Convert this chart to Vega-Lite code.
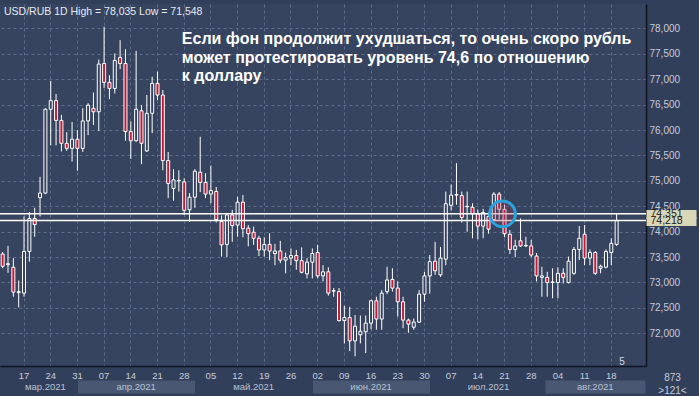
{
  "$schema": "https://vega.github.io/schema/vega-lite/v6.json",
  "width": 646,
  "height": 362,
  "autosize": {"type": "none"},
  "padding": {"left": 0, "top": 4, "right": 53, "bottom": 30},
  "background": "#323f5a",
  "config": {"view": {"fill": "#36445f", "stroke": null}, "font": "Liberation Sans"},
  "title": {"text": "USD/RUB 1D High = 78,035 Low = 71,548", "anchor": "start", "frame": "group", "offset": -21, "baseline": "alphabetic", "fontSize": 10.5, "fontWeight": "normal", "color": "#e6e9ef", "dx": 4},
  "datasets": {
    "candles": [
      {"d": "2021-03-11", "o": 73.56, "h": 73.60, "l": 73.28, "c": 73.32},
      {"d": "2021-03-12", "o": 73.35, "h": 73.72, "l": 73.19, "c": 73.37},
      {"d": "2021-03-15", "o": 73.30, "h": 73.48, "l": 72.72, "c": 72.81},
      {"d": "2021-03-16", "o": 72.80, "h": 73.04, "l": 72.51, "c": 72.82},
      {"d": "2021-03-17", "o": 72.79, "h": 74.30, "l": 72.72, "c": 73.61},
      {"d": "2021-03-18", "o": 73.61, "h": 74.39, "l": 73.41, "c": 74.26},
      {"d": "2021-03-19", "o": 74.26, "h": 74.47, "l": 73.90, "c": 74.14},
      {"d": "2021-03-22", "o": 74.67, "h": 75.08, "l": 74.30, "c": 74.76},
      {"d": "2021-03-23", "o": 74.76, "h": 76.43, "l": 74.74, "c": 76.41},
      {"d": "2021-03-24", "o": 76.41, "h": 76.97, "l": 75.70, "c": 76.58},
      {"d": "2021-03-25", "o": 76.58, "h": 76.71, "l": 75.70, "c": 76.19},
      {"d": "2021-03-26", "o": 76.19, "h": 76.30, "l": 75.58, "c": 75.74},
      {"d": "2021-03-29", "o": 75.74, "h": 75.96, "l": 75.59, "c": 75.64},
      {"d": "2021-03-30", "o": 75.64, "h": 76.16, "l": 75.38, "c": 75.82},
      {"d": "2021-03-31", "o": 75.82, "h": 76.00, "l": 75.20, "c": 75.64},
      {"d": "2021-04-01", "o": 75.64, "h": 76.43, "l": 75.57, "c": 76.18},
      {"d": "2021-04-02", "o": 76.18, "h": 76.53, "l": 75.90, "c": 76.49},
      {"d": "2021-04-05", "o": 76.43, "h": 76.74, "l": 76.10, "c": 76.36},
      {"d": "2021-04-06", "o": 76.36, "h": 77.39, "l": 75.98, "c": 77.30},
      {"d": "2021-04-07", "o": 77.31, "h": 78.035, "l": 76.83, "c": 76.94},
      {"d": "2021-04-08", "o": 76.94, "h": 77.08, "l": 76.61, "c": 76.82},
      {"d": "2021-04-09", "o": 76.82, "h": 77.51, "l": 76.72, "c": 77.37},
      {"d": "2021-04-12", "o": 77.43, "h": 77.77, "l": 77.20, "c": 77.31},
      {"d": "2021-04-13", "o": 77.31, "h": 77.59, "l": 75.79, "c": 75.97},
      {"d": "2021-04-14", "o": 75.97, "h": 76.17, "l": 75.43, "c": 75.79},
      {"d": "2021-04-15", "o": 75.79, "h": 77.56, "l": 75.77, "c": 76.41},
      {"d": "2021-04-16", "o": 76.38, "h": 76.49, "l": 75.33, "c": 75.74},
      {"d": "2021-04-19", "o": 75.59, "h": 76.69, "l": 75.57, "c": 76.33},
      {"d": "2021-04-20", "o": 76.33, "h": 77.05, "l": 75.94, "c": 76.92},
      {"d": "2021-04-21", "o": 76.92, "h": 77.15, "l": 76.59, "c": 76.69},
      {"d": "2021-04-22", "o": 76.69, "h": 76.79, "l": 75.21, "c": 75.40},
      {"d": "2021-04-23", "o": 75.40, "h": 75.57, "l": 74.66, "c": 74.95},
      {"d": "2021-04-26", "o": 74.85, "h": 75.23, "l": 74.61, "c": 75.02},
      {"d": "2021-04-27", "o": 75.00, "h": 75.21, "l": 74.79, "c": 75.01},
      {"d": "2021-04-28", "o": 74.98, "h": 75.05, "l": 74.33, "c": 74.42},
      {"d": "2021-04-29", "o": 74.43, "h": 74.76, "l": 74.19, "c": 74.68},
      {"d": "2021-04-30", "o": 74.68, "h": 75.23, "l": 74.47, "c": 75.19},
      {"d": "2021-05-03", "o": 75.17, "h": 75.87, "l": 74.78, "c": 74.97},
      {"d": "2021-05-04", "o": 74.97, "h": 75.15, "l": 74.66, "c": 74.74},
      {"d": "2021-05-05", "o": 74.74, "h": 75.30, "l": 74.56, "c": 74.81},
      {"d": "2021-05-06", "o": 74.79, "h": 74.88, "l": 74.18, "c": 74.24},
      {"d": "2021-05-07", "o": 74.20, "h": 74.32, "l": 73.51, "c": 73.74},
      {"d": "2021-05-10", "o": 73.75, "h": 74.36, "l": 73.50, "c": 74.33},
      {"d": "2021-05-11", "o": 74.33, "h": 74.43, "l": 73.80, "c": 74.12},
      {"d": "2021-05-12", "o": 74.13, "h": 74.69, "l": 73.90, "c": 74.58},
      {"d": "2021-05-13", "o": 74.58, "h": 74.72, "l": 73.89, "c": 74.06},
      {"d": "2021-05-14", "o": 74.07, "h": 74.13, "l": 73.71, "c": 73.96},
      {"d": "2021-05-17", "o": 73.99, "h": 74.10, "l": 73.74, "c": 73.87},
      {"d": "2021-05-18", "o": 73.87, "h": 73.92, "l": 73.52, "c": 73.64},
      {"d": "2021-05-19", "o": 73.64, "h": 73.89, "l": 73.51, "c": 73.75},
      {"d": "2021-05-20", "o": 73.75, "h": 73.97, "l": 73.44, "c": 73.62},
      {"d": "2021-05-21", "o": 73.57, "h": 73.76, "l": 73.34, "c": 73.62},
      {"d": "2021-05-24", "o": 73.62, "h": 73.82, "l": 73.38, "c": 73.44},
      {"d": "2021-05-25", "o": 73.44, "h": 73.59, "l": 73.18, "c": 73.49},
      {"d": "2021-05-26", "o": 73.48, "h": 73.67, "l": 73.34, "c": 73.53},
      {"d": "2021-05-27", "o": 73.53, "h": 73.64, "l": 73.25, "c": 73.43},
      {"d": "2021-05-28", "o": 73.43, "h": 73.69, "l": 73.18, "c": 73.20},
      {"d": "2021-05-31", "o": 73.17, "h": 73.48, "l": 73.08, "c": 73.40},
      {"d": "2021-06-01", "o": 73.40, "h": 73.67, "l": 73.08, "c": 73.57},
      {"d": "2021-06-02", "o": 73.59, "h": 73.74, "l": 73.08, "c": 73.13},
      {"d": "2021-06-03", "o": 73.13, "h": 73.34, "l": 73.02, "c": 73.21},
      {"d": "2021-06-04", "o": 73.21, "h": 73.30, "l": 72.74, "c": 72.79},
      {"d": "2021-06-07", "o": 72.83, "h": 72.89, "l": 72.72, "c": 72.84},
      {"d": "2021-06-08", "o": 72.82, "h": 72.89, "l": 72.23, "c": 72.25},
      {"d": "2021-06-09", "o": 72.25, "h": 72.54, "l": 71.80, "c": 72.31},
      {"d": "2021-06-10", "o": 72.31, "h": 72.52, "l": 71.65, "c": 71.85},
      {"d": "2021-06-11", "o": 71.85, "h": 72.36, "l": 71.548, "c": 72.14},
      {"d": "2021-06-14", "o": 71.97, "h": 72.35, "l": 71.80, "c": 72.04},
      {"d": "2021-06-15", "o": 72.03, "h": 72.35, "l": 71.61, "c": 72.20},
      {"d": "2021-06-16", "o": 72.20, "h": 72.66, "l": 72.08, "c": 72.64},
      {"d": "2021-06-17", "o": 72.64, "h": 72.72, "l": 72.07, "c": 72.28},
      {"d": "2021-06-18", "o": 72.28, "h": 72.85, "l": 72.07, "c": 72.79},
      {"d": "2021-06-21", "o": 72.82, "h": 73.31, "l": 72.77, "c": 73.05},
      {"d": "2021-06-22", "o": 73.06, "h": 73.28, "l": 72.82, "c": 72.89},
      {"d": "2021-06-23", "o": 72.89, "h": 73.02, "l": 72.33, "c": 72.62},
      {"d": "2021-06-24", "o": 72.62, "h": 72.72, "l": 72.10, "c": 72.26},
      {"d": "2021-06-25", "o": 72.26, "h": 72.29, "l": 72.01, "c": 72.18},
      {"d": "2021-06-28", "o": 72.12, "h": 72.29, "l": 72.07, "c": 72.22},
      {"d": "2021-06-29", "o": 72.22, "h": 72.85, "l": 72.20, "c": 72.77},
      {"d": "2021-06-30", "o": 72.77, "h": 73.21, "l": 72.62, "c": 73.13},
      {"d": "2021-07-01", "o": 73.13, "h": 73.54, "l": 72.78, "c": 73.41},
      {"d": "2021-07-02", "o": 73.42, "h": 73.80, "l": 73.15, "c": 73.23},
      {"d": "2021-07-05", "o": 73.15, "h": 73.70, "l": 73.11, "c": 73.48},
      {"d": "2021-07-06", "o": 73.46, "h": 74.79, "l": 73.34, "c": 74.55},
      {"d": "2021-07-07", "o": 74.52, "h": 74.93, "l": 74.42, "c": 74.72},
      {"d": "2021-07-08", "o": 74.72, "h": 75.35, "l": 74.53, "c": 74.73},
      {"d": "2021-07-09", "o": 74.71, "h": 74.79, "l": 74.18, "c": 74.28},
      {"d": "2021-07-12", "o": 74.49, "h": 74.79, "l": 74.00, "c": 74.50},
      {"d": "2021-07-13", "o": 74.48, "h": 74.56, "l": 73.87, "c": 74.35},
      {"d": "2021-07-14", "o": 74.35, "h": 74.43, "l": 73.85, "c": 74.11},
      {"d": "2021-07-15", "o": 74.11, "h": 74.45, "l": 73.87, "c": 74.38},
      {"d": "2021-07-16", "o": 74.30, "h": 74.38, "l": 73.96, "c": 74.05},
      {"d": "2021-07-19", "o": 74.24, "h": 74.78, "l": 74.20, "c": 74.74},
      {"d": "2021-07-20", "o": 74.74, "h": 74.78, "l": 74.24, "c": 74.44},
      {"d": "2021-07-21", "o": 74.44, "h": 74.53, "l": 73.89, "c": 73.96},
      {"d": "2021-07-22", "o": 73.95, "h": 74.03, "l": 73.56, "c": 73.65},
      {"d": "2021-07-23", "o": 73.65, "h": 73.84, "l": 73.50, "c": 73.72},
      {"d": "2021-07-26", "o": 73.82, "h": 74.26, "l": 73.70, "c": 73.72},
      {"d": "2021-07-27", "o": 73.72, "h": 73.90, "l": 73.70, "c": 73.73},
      {"d": "2021-07-28", "o": 73.72, "h": 73.84, "l": 73.50, "c": 73.54},
      {"d": "2021-07-29", "o": 73.52, "h": 73.58, "l": 73.02, "c": 73.13},
      {"d": "2021-07-30", "o": 73.10, "h": 73.31, "l": 72.72, "c": 73.13},
      {"d": "2021-08-02", "o": 73.10, "h": 73.21, "l": 72.72, "c": 73.00},
      {"d": "2021-08-03", "o": 73.00, "h": 73.28, "l": 72.69, "c": 73.01},
      {"d": "2021-08-04", "o": 73.00, "h": 73.30, "l": 72.69, "c": 73.18},
      {"d": "2021-08-05", "o": 73.18, "h": 73.28, "l": 72.98, "c": 73.10},
      {"d": "2021-08-06", "o": 73.00, "h": 73.51, "l": 72.98, "c": 73.42},
      {"d": "2021-08-09", "o": 73.18, "h": 73.70, "l": 73.15, "c": 73.65},
      {"d": "2021-08-10", "o": 73.65, "h": 74.11, "l": 73.44, "c": 73.87},
      {"d": "2021-08-11", "o": 73.95, "h": 74.13, "l": 73.34, "c": 73.48},
      {"d": "2021-08-12", "o": 73.48, "h": 73.65, "l": 73.34, "c": 73.59},
      {"d": "2021-08-13", "o": 73.59, "h": 73.62, "l": 73.15, "c": 73.18},
      {"d": "2021-08-16", "o": 73.28, "h": 73.35, "l": 73.18, "c": 73.32},
      {"d": "2021-08-17", "o": 73.30, "h": 73.65, "l": 73.28, "c": 73.61},
      {"d": "2021-08-18", "o": 73.59, "h": 73.87, "l": 73.34, "c": 73.77},
      {"d": "2021-08-19", "o": 73.75, "h": 74.351, "l": 73.72, "c": 74.218}
    ],
    "levels": [{"v": 74.351}, {"v": 74.218}],
    "notes": [
      {"d": "2021-04-27", "p": 77.79, "t": "Если фон продолжит ухудшаться, то очень скоро рубль"},
      {"d": "2021-04-27", "p": 77.42, "t": "может протестировать уровень 74,6 по отношению"},
      {"d": "2021-04-27", "p": 77.065, "t": "к доллару"}
    ],
    "circle": [{"d": "2021-07-21", "p": 74.35}],
    "count": [{"d": "2021-08-20", "p": 71.44, "t": "5"}]
  },
  "layer": [
    {
      "data": {"name": "candles"},
      "mark": {"type": "rule", "color": "#ffffff", "strokeWidth": 1},
      "encoding": {
        "x": {"field": "d", "type": "nominal",
          "scale": {"type": "band", "paddingInner": 0, "paddingOuter": 0, "domain": ["2021-03-11","2021-03-12","2021-03-15","2021-03-16","2021-03-17","2021-03-18","2021-03-19","2021-03-22","2021-03-23","2021-03-24","2021-03-25","2021-03-26","2021-03-29","2021-03-30","2021-03-31","2021-04-01","2021-04-02","2021-04-05","2021-04-06","2021-04-07","2021-04-08","2021-04-09","2021-04-12","2021-04-13","2021-04-14","2021-04-15","2021-04-16","2021-04-19","2021-04-20","2021-04-21","2021-04-22","2021-04-23","2021-04-26","2021-04-27","2021-04-28","2021-04-29","2021-04-30","2021-05-03","2021-05-04","2021-05-05","2021-05-06","2021-05-07","2021-05-10","2021-05-11","2021-05-12","2021-05-13","2021-05-14","2021-05-17","2021-05-18","2021-05-19","2021-05-20","2021-05-21","2021-05-24","2021-05-25","2021-05-26","2021-05-27","2021-05-28","2021-05-31","2021-06-01","2021-06-02","2021-06-03","2021-06-04","2021-06-07","2021-06-08","2021-06-09","2021-06-10","2021-06-11","2021-06-14","2021-06-15","2021-06-16","2021-06-17","2021-06-18","2021-06-21","2021-06-22","2021-06-23","2021-06-24","2021-06-25","2021-06-28","2021-06-29","2021-06-30","2021-07-01","2021-07-02","2021-07-05","2021-07-06","2021-07-07","2021-07-08","2021-07-09","2021-07-12","2021-07-13","2021-07-14","2021-07-15","2021-07-16","2021-07-19","2021-07-20","2021-07-21","2021-07-22","2021-07-23","2021-07-26","2021-07-27","2021-07-28","2021-07-29","2021-07-30","2021-08-02","2021-08-03","2021-08-04","2021-08-05","2021-08-06","2021-08-09","2021-08-10","2021-08-11","2021-08-12","2021-08-13","2021-08-16","2021-08-17","2021-08-18","2021-08-19","2021-08-20","2021-08-23","2021-08-24","2021-08-25","2021-08-26"]},
          "axis": {"orient": "bottom", "values": ["2021-03-17","2021-03-24","2021-03-31","2021-04-07","2021-04-14","2021-04-21","2021-04-28","2021-05-05","2021-05-12","2021-05-19","2021-05-26","2021-06-02","2021-06-09","2021-06-16","2021-06-23","2021-06-30","2021-07-07","2021-07-14","2021-07-21","2021-07-28","2021-08-04","2021-08-11","2021-08-18"],
            "labelExpr": "slice(datum.value, 8)", "labelAngle": 0, "labelFontSize": 9.5, "labelColor": "#c5ccda", "labelPadding": 4, "labelOverlap": false,
            "ticks": false, "domain": true, "domainColor": "#0e1322", "domainWidth": 1.5,
            "grid": true, "gridColor": "#5d6c8a", "gridDash": [3, 3], "gridWidth": 1, "title": null}
        },
        "y": {"field": "l", "type": "quantitative",
          "scale": {"domain": [71.356, 78.482], "nice": false, "zero": false},
          "axis": {"orient": "right", "values": [72, 72.5, 73, 73.5, 74, 74.5, 75, 75.5, 76, 76.5, 77, 77.5, 78],
            "labelExpr": "replace(format(datum.value, '.3f'), '.', ',')", "labelFontSize": 10, "labelColor": "#c5ccda", "labelPadding": 3, "labelOverlap": false,
            "ticks": false, "domainColor": "#0e1322", "domainWidth": 1.5,
            "grid": true, "gridColor": "#5d6c8a", "gridDash": [3, 3], "gridWidth": 1,
            "title": ["873", ">121<"], "titleAngle": 0, "titleX": 26, "titleY": 373, "titleAlign": "center", "titleBaseline": "middle",
            "titleFontSize": 10, "titleFontWeight": "normal", "titleColor": "#c5ccda", "titleLineHeight": 13}
        },
        "y2": {"field": "h"}
      }
    },
    {
      "data": {"name": "candles"},
      "mark": {"type": "bar", "size": 3, "stroke": "#ffffff", "strokeWidth": 1},
      "encoding": {
        "x": {"field": "d", "type": "nominal", "axis": null},
        "y": {"field": "o", "type": "quantitative", "axis": null},
        "y2": {"field": "c"},
        "fill": {"condition": {"test": "datum.o > datum.c", "value": "#c41a3b"}, "value": "#36445f"}
      }
    },
    {
      "data": {"name": "levels"},
      "mark": {"type": "rule", "color": "#ffffff", "strokeWidth": 1.5},
      "encoding": {
        "y": {"field": "v", "type": "quantitative",
          "axis": {"orient": "right", "values": [74.351, 74.218], "labelExpr": "replace(format(datum.value, '.3f'), '.', ',')",
            "tickColor": "#d9d7b8", "tickWidth": 9, "tickSize": 50, "labelPadding": -46, "labelColor": "#1a1a1a", "labelFontSize": 10.5,
            "labelOverlap": false, "domain": false, "grid": false, "title": null, "zindex": 1}
        }
      }
    },
    {
      "data": {"name": "circle"},
      "mark": {"type": "point", "shape": "circle", "size": 660, "fill": "#a33a5a", "fillOpacity": 0.3, "stroke": "#2aa2dc", "strokeWidth": 3, "strokeOpacity": 1, "opacity": 1, "xOffset": -2},
      "encoding": {
        "x": {"field": "d", "type": "nominal", "axis": null},
        "y": {"field": "p", "type": "quantitative", "axis": null}
      }
    },
    {
      "data": {"name": "notes"},
      "mark": {"type": "text", "align": "left", "baseline": "middle", "font": "Liberation Sans", "fontWeight": "bold", "fontSize": 16, "color": "#ffffff", "dx": 3},
      "encoding": {
        "x": {"field": "d", "type": "nominal",
          "axis": {"orient": "bottom", "values": ["2021-03-23", "2021-04-15", "2021-05-17", "2021-06-16", "2021-07-16", "2021-08-13"],
            "labelExpr": "datum.value == '2021-03-23' ? 'мар.2021' : datum.value == '2021-04-15' ? 'апр.2021' : datum.value == '2021-05-17' ? 'май.2021' : datum.value == '2021-06-16' ? 'июн.2021' : datum.value == '2021-07-16' ? 'июл.2021' : 'авг.2021'",
            "labelAngle": 0, "labelFontSize": 9.5, "labelColor": "#b8c1d2", "labelPadding": -12, "labelOverlap": false,
            "offset": 14, "domain": false, "grid": false, "title": null, "tickSize": 13,
            "tickColor": {"condition": {"test": "datum.value == '2021-04-15' || datum.value == '2021-06-16' || datum.value == '2021-08-13'", "value": "#4a5772"}, "value": "transparent"},
            "tickWidth": {"condition": {"test": "datum.value == '2021-08-13'", "value": 100}, "value": 117}}
        },
        "y": {"field": "p", "type": "quantitative", "axis": null},
        "text": {"field": "t"}
      }
    },
    {
      "data": {"name": "count"},
      "mark": {"type": "text", "align": "center", "baseline": "middle", "fontSize": 10, "color": "#d0d6e0"},
      "encoding": {
        "x": {"field": "d", "type": "nominal", "axis": null},
        "y": {"field": "p", "type": "quantitative", "axis": null},
        "text": {"field": "t"}
      }
    }
  ],
  "resolve": {"axis": {"x": "independent", "y": "independent"}}
}
